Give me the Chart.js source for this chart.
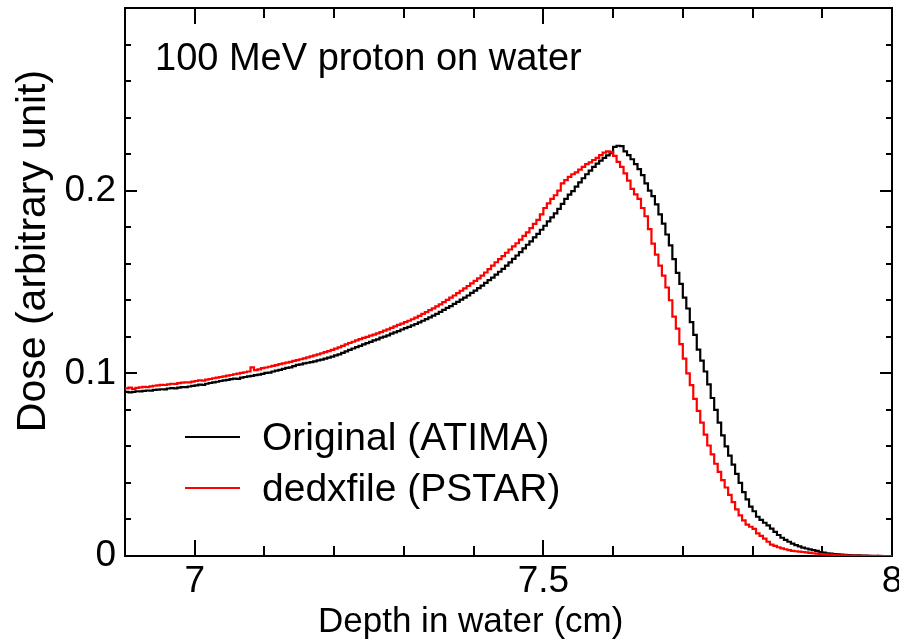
<!DOCTYPE html>
<html><head><meta charset="utf-8">
<script src="https://cdn.jsdelivr.net/npm/chart.js@4.4.1/dist/chart.umd.min.js"></script>
<style>html,body{margin:0;padding:0;background:#fff;} #wrap{width:899px;height:640px;position:relative;}</style>
</head><body><div id="wrap"><canvas id="c"></canvas></div>
<script>
// Histogram bins: left edge of first bin and bin width (cm)
const binStart = 6.9;
const binWidth = 0.005;

// Dose per bin, "Original (ATIMA)" (black)
const doseOriginal = [
 0.0897,0.0899,0.0896,0.0899,0.0902,0.0901,0.0904,0.0906,0.0905,0.0909,
 0.0911,0.0913,0.0912,0.0917,0.0919,0.0918,0.0922,0.0925,0.0924,0.0928,
 0.0931,0.0934,0.0938,0.0937,0.0943,0.0947,0.0950,0.0954,0.0958,0.0961,
 0.0964,0.0968,0.0971,0.0970,0.0976,0.0980,0.0983,0.0986,0.0990,0.0993,
 0.0997,0.1002,0.1004,0.1010,0.1015,0.1019,0.1024,0.1030,0.1033,0.1040,
 0.1046,0.1049,0.1055,0.1058,0.1061,0.1066,0.1071,0.1075,0.1081,0.1086,
 0.1092,0.1098,0.1104,0.1112,0.1120,0.1128,0.1136,0.1143,0.1150,0.1158,
 0.1165,0.1172,0.1180,0.1186,0.1195,0.1201,0.1208,0.1217,0.1224,0.1231,
 0.1240,0.1247,0.1254,0.1262,0.1270,0.1279,0.1288,0.1297,0.1306,0.1316,
 0.1326,0.1336,0.1347,0.1358,0.1368,0.1380,0.1391,0.1403,0.1414,0.1426,
 0.1440,0.1453,0.1467,0.1480,0.1495,0.1510,0.1524,0.1540,0.1556,0.1572,
 0.1590,0.1607,0.1627,0.1645,0.1664,0.1684,0.1704,0.1722,0.1744,0.1764,
 0.1786,0.1808,0.1832,0.1854,0.1876,0.1900,0.1928,0.1955,0.1978,0.1998,
 0.2022,0.2045,0.2068,0.2090,0.2110,0.2130,0.2148,0.2165,0.2180,0.2193,
 0.2206,0.2240,0.2246,0.2244,0.2215,0.2195,0.2172,0.2145,0.2118,0.2085,
 0.2040,0.2000,0.1970,0.1925,0.1870,0.1820,0.1760,0.1700,0.1625,0.1550,
 0.1490,0.1415,0.1355,0.1280,0.1210,0.1130,0.1070,0.1010,0.0940,0.0865,
 0.0800,0.0730,0.0660,0.0600,0.0550,0.0500,0.0450,0.0400,0.0350,0.0310,
 0.0270,0.0245,0.0215,0.0198,0.0182,0.0168,0.0150,0.0132,0.0115,0.0100,
 0.0088,0.0078,0.0068,0.0060,0.0053,0.0046,0.0041,0.0036,0.0032,0.0028,
 0.0022,0.0018,0.0015,0.0013,0.0011,0.0009,0.0008,0.0006,0.0005,0.0004,
 0.0003,0.0003,0.0002,0.0002,0.0001,0.0001,0.0001,0.0000,0.0000,0.0000
];

// Dose per bin, "dedxfile (PSTAR)" (red)
const dosePstar = [
 0.0914,0.0918,0.0922,0.0915,0.0920,0.0923,0.0926,0.0925,0.0929,0.0932,
 0.0934,0.0937,0.0936,0.0940,0.0943,0.0942,0.0946,0.0949,0.0951,0.0950,
 0.0955,0.0958,0.0962,0.0960,0.0966,0.0969,0.0973,0.0976,0.0980,0.0983,
 0.0987,0.0991,0.0995,0.0998,0.1003,0.1006,0.1010,0.1033,0.1018,0.1022,
 0.1028,0.1032,0.1036,0.1041,0.1045,0.1050,0.1054,0.1059,0.1063,0.1068,
 0.1072,0.1077,0.1082,0.1087,0.1093,0.1098,0.1104,0.1110,0.1116,0.1122,
 0.1128,0.1135,0.1142,0.1150,0.1158,0.1166,0.1173,0.1180,0.1187,0.1194,
 0.1200,0.1206,0.1212,0.1219,0.1226,0.1234,0.1241,0.1249,0.1257,0.1265,
 0.1272,0.1280,0.1288,0.1296,0.1305,0.1315,0.1325,0.1335,0.1346,0.1356,
 0.1367,0.1378,0.1390,0.1402,0.1414,0.1426,0.1439,0.1452,0.1465,0.1478,
 0.1492,0.1506,0.1520,0.1535,0.1552,0.1570,0.1590,0.1608,0.1625,0.1642,
 0.1660,0.1678,0.1695,0.1712,0.1732,0.1752,0.1772,0.1795,0.1818,0.1840,
 0.1870,0.1905,0.1930,0.1955,0.1975,0.2000,0.2040,0.2058,0.2075,0.2090,
 0.2100,0.2115,0.2130,0.2145,0.2155,0.2168,0.2180,0.2195,0.2208,0.2215,
 0.2212,0.2190,0.2158,0.2130,0.2095,0.2055,0.2010,0.1980,0.1955,0.1905,
 0.1860,0.1790,0.1710,0.1650,0.1590,0.1535,0.1470,0.1400,0.1310,0.1245,
 0.1160,0.1080,0.1000,0.0935,0.0860,0.0795,0.0730,0.0665,0.0605,0.0556,
 0.0505,0.0460,0.0415,0.0375,0.0335,0.0295,0.0255,0.0222,0.0195,0.0172,
 0.0160,0.0148,0.0124,0.0110,0.0095,0.0078,0.0062,0.0055,0.0048,0.0042,
 0.0037,0.0032,0.0028,0.0026,0.0024,0.0022,0.0020,0.0017,0.0015,0.0013,
 0.0011,0.0009,0.0008,0.0007,0.0005,0.0004,0.0004,0.0003,0.0002,0.0002,
 0.0002,0.0001,0.0001,0.0001,0.0001,0.0000,0.0000,0.0001,0.0000,0.0000
];

const xTickValues = [7, 7.5, 8];
const xMinorTicks = [7.1, 7.2, 7.3, 7.4, 7.6, 7.7, 7.8, 7.9];
const yTickValues = [0, 0.1, 0.2];
const yMinorTicks = [0.02, 0.04, 0.06, 0.08, 0.12, 0.14, 0.16, 0.18, 0.22, 0.24, 0.26, 0.28];
const seriesNames = ['Original (ATIMA)', 'dedxfile (PSTAR)'];
const seriesColors = ['#000000', '#ff0000'];
const chartTitle = '100 MeV proton on water';
const xTitle = 'Depth in water (cm)';
const yTitle = 'Dose (arbitrary unit)';

const FONT = '"Liberation Sans", Arial, Helvetica, sans-serif';

function toPoints(vals) {
  const pts = vals.map((v, i) => ({ x: +(binStart + i * binWidth).toFixed(4), y: v }));
  pts.push({ x: +(binStart + vals.length * binWidth).toFixed(4), y: vals[vals.length - 1] });
  return pts;
}

const framePlugin = {
  id: 'frame',
  beforeDatasetsDraw(chart) {
    const { ctx, chartArea: a, scales } = chart;
    const xs = scales.x, ys = scales.y;
    ctx.save();
    ctx.strokeStyle = '#000';
    ctx.lineWidth = 2;
    ctx.strokeRect(a.left, a.top, a.right - a.left, a.bottom - a.top);
    ctx.beginPath();
    const xt = (v, len) => {
      const px = Math.round(xs.getPixelForValue(v));
      ctx.moveTo(px, a.bottom); ctx.lineTo(px, a.bottom - len);
      ctx.moveTo(px, a.top); ctx.lineTo(px, a.top + len);
    };
    xTickValues.forEach(v => xt(v, 16));
    xMinorTicks.forEach(v => xt(v, 10));
    const yt = (v, len) => {
      const py = Math.round(ys.getPixelForValue(v));
      ctx.moveTo(a.left, py); ctx.lineTo(a.left + len, py);
      ctx.moveTo(a.right, py); ctx.lineTo(a.right - len, py);
    };
    yTickValues.forEach(v => yt(v, 12));
    yMinorTicks.forEach(v => yt(v, 6));
    ctx.stroke();
    ctx.restore();
  },
  afterDraw(chart) {
    const { ctx } = chart;
    ctx.save();
    ctx.fillStyle = '#000';
    // title inside plot
    ctx.font = '38px ' + FONT;
    ctx.textAlign = 'left';
    ctx.textBaseline = 'alphabetic';
    ctx.fillText(chartTitle, 155, 70);
    // legend
    const legY = [437, 488];
    ctx.font = '39px ' + FONT;
    ctx.lineWidth = 2;
    seriesNames.forEach((name, i) => {
      ctx.strokeStyle = seriesColors[i];
      ctx.beginPath();
      ctx.moveTo(185, legY[i]); ctx.lineTo(240, legY[i]);
      ctx.stroke();
      ctx.fillText(name, 262, legY[i] + 13);
    });
    // axis titles
    ctx.font = '35px ' + FONT;
    ctx.fillText(xTitle, 318, 632);
    ctx.font = '41px ' + FONT;
    ctx.translate(45, 251);
    ctx.rotate(-Math.PI / 2);
    ctx.textAlign = 'center';
    ctx.fillText(yTitle, 0, 0);
    ctx.restore();
  }
};

new Chart(document.getElementById('c'), {
  type: 'line',
  data: {
    datasets: [
      { label: seriesNames[0], data: toPoints(doseOriginal), borderColor: seriesColors[0], borderWidth: 2.2, stepped: 'after', pointRadius: 0, fill: false, order: 1 },
      { label: seriesNames[1], data: toPoints(dosePstar), borderColor: seriesColors[1], borderWidth: 2.2, stepped: 'after', pointRadius: 0, fill: false, order: 0 }
    ]
  },
  options: {
    responsive: true, maintainAspectRatio: false, animation: false,
    layout: { padding: { left: 0, right: 7, top: 8, bottom: 0 } },
    plugins: { legend: { display: false }, tooltip: { enabled: false }, title: { display: false } },
    scales: {
      x: {
        type: 'linear', min: 6.9, max: 8,
        grid: { display: false, drawTicks: false },
        border: { display: false },
        afterBuildTicks: s => { s.ticks = xTickValues.map(v => ({ value: v })); },
        afterFit: s => { s.height = 84; s.paddingLeft = 0; s.paddingRight = 0; },
        ticks: { autoSkip: false, maxRotation: 0, padding: 4, color: '#000', font: { family: FONT, size: 37 }, callback: v => String(v) }
      },
      y: {
        type: 'linear', min: 0, max: 0.3,
        grid: { display: false, drawTicks: false },
        border: { display: false },
        afterBuildTicks: s => { s.ticks = yTickValues.map(v => ({ value: v })); },
        afterFit: s => { s.width = 125; s.paddingTop = 0; s.paddingBottom = 0; },
        ticks: { autoSkip: false, padding: 9, color: '#000', font: { family: FONT, size: 37 }, callback: v => String(v) }
      }
    }
  },
  plugins: [framePlugin]
});
</script>
</body></html>
